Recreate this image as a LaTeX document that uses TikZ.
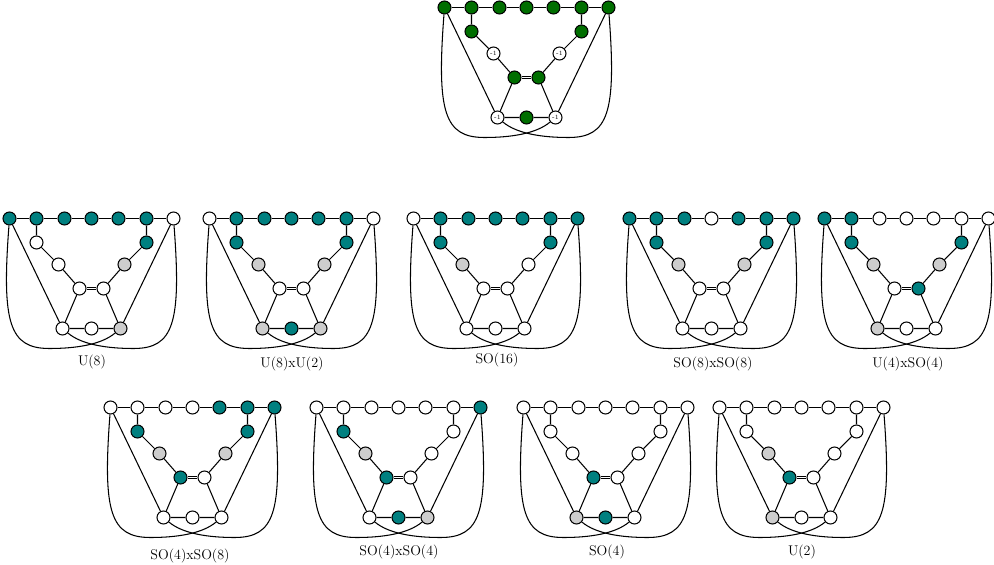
\documentclass[tikz,border=0pt]{standalone}
\usepackage{tikz}

\definecolor{dkgreen}{RGB}{0,110,0}
\definecolor{dkteal}{RGB}{0,128,128}
\definecolor{ltgray}{RGB}{205,205,205}

% one diagram: #1,#2 = position of the middle top node, #3 = fills of the 16 nodes
\newcommand{\dynk}[3]{%
  \begin{scope}[shift={(#1,#2)}]
    \foreach \s [count=\i] in {#3} {\expandafter\xdef\csname dk\i\endcsname{\s}}
    \foreach \n/\x/\y [count=\i] in {t1/-82/0, t2/-55/0, t3/-27/0, t4/0/0, t5/27/0, t6/55/0, t7/82/0,
        l1/-55/24, l2/-33/46, c1/-12/70, c2/12/70, r2/33/46, r1/55/24, b1/-29/110, b2/0/110, b3/29/110}
      {\edef\st{\csname dk\i\endcsname}\node[\st] (\n) at (\x,\y) {};}
    % top row and the two arms
    \draw (t1) -- (t2) -- (t3) -- (t4) -- (t5) -- (t6) -- (t7);
    \draw (t2) -- (l1) -- (l2) -- (c1);
    \draw (t6) -- (r1) -- (r2) -- (c2);
    \draw[double, double distance=1.6pt] (c1) -- (c2);
    \draw (c1) -- (b1) -- (b2) -- (b3) -- (c2);
    \draw (t1) -- (b1);
    \draw (t7) -- (b3);
    % the two loops
    \draw (t1) .. controls (-90,105) and (-82,130) .. (-42,130) .. controls (-15,130) and (10,126) .. (b3);
    \draw (t7) .. controls (90,105) and (82,130) .. (42,130) .. controls (15,130) and (-10,126) .. (b1);
  \end{scope}}

\begin{document}
\begin{tikzpicture}[x=0.03cm, y=-0.03cm, line width=0.9pt,
    vert/.style={circle, draw, minimum size=0.39cm, inner sep=0pt},
    vw/.style={vert, fill=white},
    vt/.style={vert, fill=dkteal},
    vg/.style={vert, fill=ltgray},
    vd/.style={vert, fill=dkgreen},
    vm/.style={vert, fill=white, label={[font=\fontsize{5.5}{5.5}\selectfont, inner sep=0pt]center:-1}},
    lab/.style={font=\fontsize{12}{14}\selectfont, inner sep=0pt}]
  \useasboundingbox (0,0) rectangle (994,565);

  % top
  \dynk{526.5}{7.5}{vd,vd,vd,vd,vd,vd,vd, vd,vm, vd,vd, vm,vd, vm,vd,vm}

  % middle row
  \dynk{91.5}{218.5}{vt,vt,vt,vt,vt,vt,vw, vw,vw, vw,vw, vg,vt, vw,vw,vg}
  \dynk{291.5}{218.5}{vw,vt,vt,vt,vt,vt,vw, vt,vg, vw,vw, vg,vt, vg,vt,vg}
  \dynk{495.5}{218.5}{vw,vt,vt,vt,vt,vt,vt, vt,vg, vw,vw, vw,vt, vw,vw,vw}
  \dynk{711.5}{218.5}{vt,vt,vt,vw,vt,vt,vt, vt,vg, vw,vw, vg,vt, vw,vw,vw}
  \dynk{906.5}{218.5}{vt,vt,vw,vw,vw,vw,vw, vt,vg, vw,vt, vg,vt, vg,vw,vw}
  \node[lab] (n1) at (92,362) {U(8)};
  \node[lab] (n2) at (292,364) {U(8)xU(2)};
  \node[lab] (n3) at (497,360) {SO(16)};
  \node[lab] (n4) at (713,364) {SO(8)xSO(8)};
  \node[lab] (n5) at (908,364) {U(4)xSO(4)};

  % bottom row
  \dynk{192.5}{407.5}{vw,vw,vw,vw,vt,vt,vt, vt,vg, vt,vw, vg,vt, vw,vw,vw}
  \dynk{398.5}{407.5}{vw,vw,vw,vw,vw,vw,vt, vt,vg, vt,vw, vw,vw, vw,vt,vg}
  \dynk{605.5}{407.5}{vw,vw,vw,vw,vw,vw,vw, vw,vw, vt,vw, vw,vw, vg,vt,vw}
  \dynk{801.5}{407.5}{vw,vw,vw,vw,vw,vw,vw, vw,vg, vt,vw, vw,vw, vg,vw,vw}
  \node[lab] (n6) at (190,556) {SO(4)xSO(8)};
  \node[lab] (n7) at (399,552) {SO(4)xSO(4)};
  \node[lab] (n8) at (607,552) {SO(4)};
  \node[lab] (n9) at (802,552) {U(2)};
\end{tikzpicture}
\end{document}
